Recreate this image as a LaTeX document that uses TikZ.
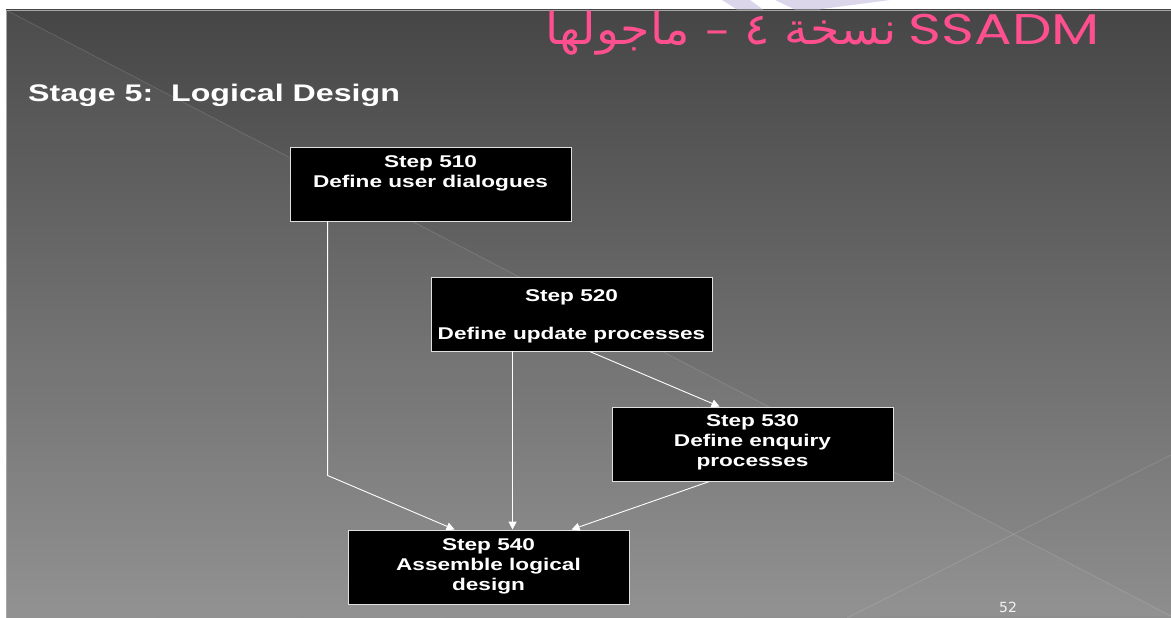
\documentclass[tikz,border=0pt]{standalone}
\usepackage{fontspec}
\setmainfont{Liberation Sans}
\newfontfamily\widefont[FakeStretch=1.33]{Liberation Sans}
\newfontfamily\headfont[FakeStretch=1.34]{Liberation Sans}
\newfontfamily\arabicfont[Script=Arabic, FakeStretch=1.08]{DejaVu Sans}
\newfontfamily\geofont[FakeStretch=1.3]{Poppins}
\newfontfamily\numfont{DejaVu Sans}
\TeXXeTstate=1
\usetikzlibrary{arrows.meta}
\definecolor{bgtop}{HTML}{464646}
\definecolor{bgbot}{HTML}{8E8E8E}
\definecolor{titlepink}{HTML}{FF4F8F}
\definecolor{lavender}{HTML}{DCD6EA}
\definecolor{boxedge}{HTML}{E0E0E0}
\tikzset{
  stepbox/.style={draw=boxedge, line width=0.9pt, fill=black,
    minimum width=281pt, minimum height=74pt, inner sep=0pt},
  steptext/.style={text=white, font=\widefont\fontsize{17}{20}\selectfont\bfseries,
    align=center, inner sep=0pt, anchor=north},
  conn/.style={draw=white, line width=0.9pt,
    -{Triangle[width=8pt,length=8pt]}},
  edge/.style={draw=white, draw opacity=0.14, line width=0.7pt}
}
\begin{document}
\begin{tikzpicture}[x=1pt, y=-1pt]
\useasboundingbox (0,0) rectangle (1171,618);
% page and slide background
\fill[white] (0,0) rectangle (1171,618);
\shade[top color=bgtop, bottom color=bgbot] (6,10) rectangle (1171,618);
\fill[white, opacity=0.035] (6,10) -- (1171,616) -- (6,618) -- cycle;
\draw[edge] (6,10) -- (1171,616);
\draw[edge] (847,618) -- (1171,455);
\draw[gray!70, line width=0.6pt] (6,618) -- (6,10) -- (1171,10);
% lavender mark above the slide edge
\fill[lavender] (722,0) -- (750,0) -- (763,9.5) -- (737,9.5) -- cycle;
\fill[lavender] (775,0) -- (890,0) -- (818,9.5) -- (795,9.5) -- cycle;
% headings
\node[anchor=base east, text=titlepink, inner sep=0pt,
  font=\geofont\fontsize{43}{43}\selectfont] (ssadm) at (1100,45) {SSADM};
\node[anchor=base east, text=titlepink, inner sep=0pt,
  font=\arabicfont\fontsize{44}{44}\selectfont] (arab) at ([xshift=-12pt]ssadm.base west)
  {\beginR نسخة ٤ – ماجولها\endR};
\node[anchor=base west, text=white, inner sep=0pt,
  font=\headfont\fontsize{24}{24}\selectfont\bfseries] (stage) at (28,102) {Stage 5:\ \ Logical Design};
% step boxes
\node[stepbox] (s510) at (430.5,184) {};
\node[stepbox] (s520) at (571.5,314) {};
\node[stepbox] (s530) at (752.5,444) {};
\node[stepbox] (s540) at (488.5,567) {};
\node[steptext] (t510) at ([yshift=-9pt]s510.north) {Step 510\\Define user dialogues};
\node[steptext] (t520) at ([yshift=-13pt]s520.north) {Step 520\\[18pt]Define update processes};
\node[steptext] (t530) at ([yshift=-8pt]s530.north) {Step 530\\Define enquiry\\processes};
\node[steptext] (t540) at ([yshift=-9pt]s540.north) {Step 540\\Assemble logical\\design};
% connectors
\draw[conn] ([xshift=38pt]s510.south west) -- ++(0,254) -- ([xshift=107pt]s540.north west);
\draw[conn] ([xshift=82pt]s520.south west) -- ([xshift=165pt]s540.north west);
\draw[conn] ([xshift=159pt]s520.south west) -- ([xshift=108pt]s530.north west);
\draw[conn] ([xshift=98pt]s530.south west) -- ([xshift=224pt]s540.north west);
% slide number
\node[text=white!90!gray, font=\numfont\fontsize{14}{14}\selectfont, inner sep=0pt] (pg) at (1008,607) {52};
\end{tikzpicture}
\end{document}
